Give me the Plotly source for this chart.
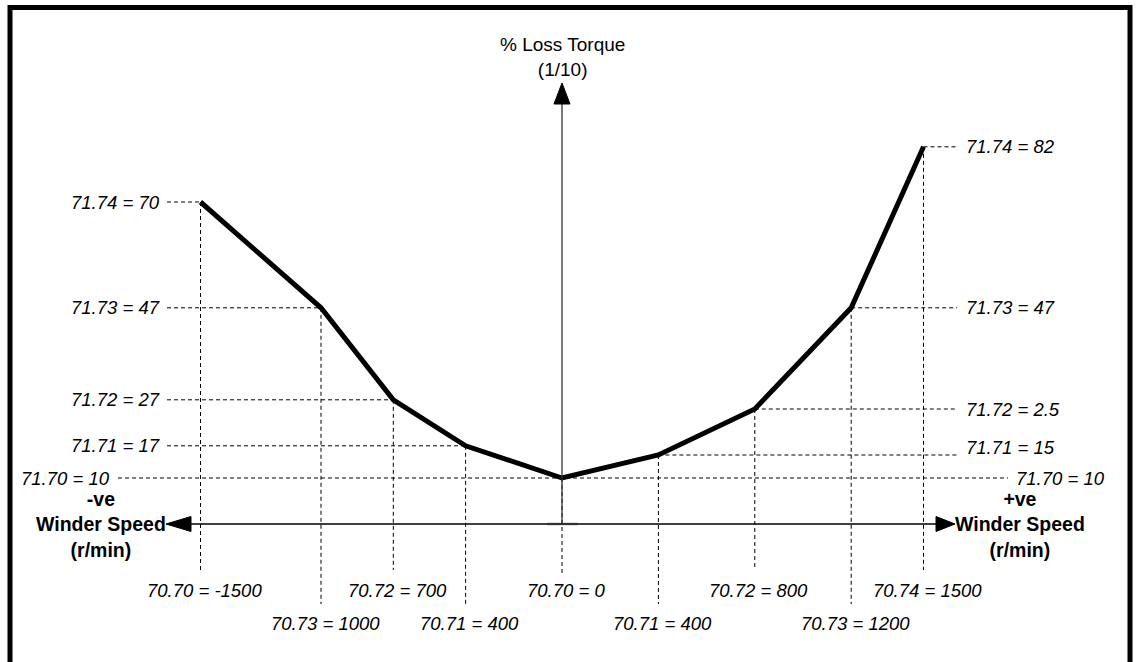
import plotly.graph_objects as go

# ---------------- data ----------------
speeds = [-1500, -1000, -700, -400, 0, 400, 800, 1200, 1500]
torques = [70, 47, 27, 17, 10, 15, 25, 47, 82]
speed_labels = ["70.70 = -1500", "70.73 = 1000", "70.72 = 700", "70.71 = 400",
                "70.70 = 0", "70.71 = 400", "70.72 = 800", "70.73 = 1200", "70.74 = 1500"]
torque_labels = ["71.74 = 70", "71.73 = 47", "71.72 = 27", "71.71 = 17",
                 "71.70 = 10", "71.71 = 15", "71.72 = 2.5", "71.73 = 47", "71.74 = 82"]
y_title = "% Loss Torque<br>(1/10)"
x_title = "Winder Speed<br>(r/min)"
neg_tag = "-ve"
pos_tag = "+ve"

# ---------------- layout geometry (pixels) ----------------
W, H = 1136, 662
OX, OY = 562, 524          # pixel position of speed 0 / torque 0
KX, KY = 0.241, 4.6        # pixels per unit
label_row = [1, 2, 1, 2, 1, 2, 1, 2, 1]


def X(px):
    return (px - OX) / KX


def Y(py):
    return (OY - py) / KY


FONT = "Liberation Sans, Arial, sans-serif"
ital = dict(family=FONT, size=18.5, color="black", style="italic")

fig = go.Figure()

shapes = []
# light grey tick at origin of horizontal axis
shapes.append(dict(type="line", x0=X(547), x1=X(578), y0=0, y1=0,
                   line=dict(color="#c8c8c8", width=3), layer="below"))
# dashed guide lines
dash = dict(color="black", width=1, dash="4px,3px")
for s, t, r in zip(speeds, torques, label_row):
    if s < 0:
        shapes.append(dict(type="line", x0=X(167), x1=s, y0=t, y1=t, line=dash))
    elif s > 0:
        shapes.append(dict(type="line", x0=s, x1=X(957), y0=t, y1=t, line=dash))
    else:
        shapes.append(dict(type="line", x0=X(118), x1=X(1008), y0=t, y1=t, line=dash))
    yend = Y(573) if s == 0 else (Y(570) if r == 1 else Y(604))
    shapes.append(dict(type="line", x0=s, x1=s, y0=t, y1=yend, line=dash))

# axes
shapes.append(dict(type="line", x0=X(191), x1=X(936), y0=0, y1=0,
                   line=dict(color="black", width=1.3)))
shapes.append(dict(type="line", x0=0, x1=0, y0=0, y1=Y(104),
                   line=dict(color="#333333", width=1.3)))
# arrow heads
shapes.append(dict(type="path", xsizemode="pixel", ysizemode="pixel",
                   xanchor=X(166), yanchor=0, path="M0,0 L25,7.5 L25,-7.5 Z",
                   fillcolor="black", line=dict(color="black", width=1)))
shapes.append(dict(type="path", xsizemode="pixel", ysizemode="pixel",
                   xanchor=X(955), yanchor=0, path="M0,0 L-19,7.5 L-19,-7.5 Z",
                   fillcolor="black", line=dict(color="black", width=1)))
shapes.append(dict(type="path", xsizemode="pixel", ysizemode="pixel",
                   xanchor=0, yanchor=Y(83), path="M0,0 L-8,-21 L8,-21 Z",
                   fillcolor="black", line=dict(color="black", width=1)))
# frame
shapes.append(dict(type="rect", xref="paper", yref="paper",
                   x0=10 / W, x1=1130 / W, y0=-0.1, y1=1 - 7.5 / H,
                   line=dict(color="black", width=5)))

# main curve
fig.add_trace(go.Scatter(x=speeds, y=torques, mode="lines",
                         line=dict(color="black", width=5),
                         hoverinfo="skip", showlegend=False))

ann = []
common = dict(showarrow=False, borderpad=0, borderwidth=0)
for s, t, lab in zip(speeds, torques, torque_labels):
    if s < 0:
        ann.append(dict(x=X(160), y=t, text=lab, xanchor="right", yanchor="middle", font=ital, **common))
    elif s > 0:
        ysh = 8 if t == 15 else 0
        ann.append(dict(x=X(966), y=t, text=lab, xanchor="left", yanchor="middle",
                        yshift=ysh, font=ital, **common))
    else:
        ann.append(dict(x=X(110), y=t, text=lab, xanchor="right", yanchor="middle", font=ital, **common))
        ann.append(dict(x=X(1016), y=t, text=lab, xanchor="left", yanchor="middle", font=ital, **common))

for s, lab, r in zip(speeds, speed_labels, label_row):
    ann.append(dict(x=s, y=Y(590) if r == 1 else Y(623), text=lab, xanchor="center",
                    yanchor="middle", xshift=4, font=ital, **common))

ann.append(dict(x=0, y=Y(57), text=y_title, xanchor="center", yanchor="middle", align="center",
                font=dict(family=FONT, size=19, color="black"), **common))
bold = dict(family=FONT, size=19.5, color="black", weight="bold")
ann.append(dict(x=X(166), y=0, text=neg_tag + "<br>" + x_title, xanchor="right", yanchor="middle",
                align="center", font=bold, **common))
ann.append(dict(x=X(955), y=0, text=pos_tag + "<br>" + x_title, xanchor="left", yanchor="middle",
                align="center", font=bold, **common))

fig.update_layout(
    width=W, height=H, autosize=False,
    margin=dict(l=0, r=0, t=0, b=0, pad=0),
    paper_bgcolor="white", plot_bgcolor="white",
    xaxis=dict(range=[X(0), X(W)], visible=False, fixedrange=True),
    yaxis=dict(range=[Y(H), Y(0)], visible=False, fixedrange=True),
    shapes=shapes, annotations=ann, showlegend=False,
)

fig.write_html("out.html", config={"displayModeBar": False},
               post_script="document.body.style.margin='0';document.body.style.overflow='hidden';")
